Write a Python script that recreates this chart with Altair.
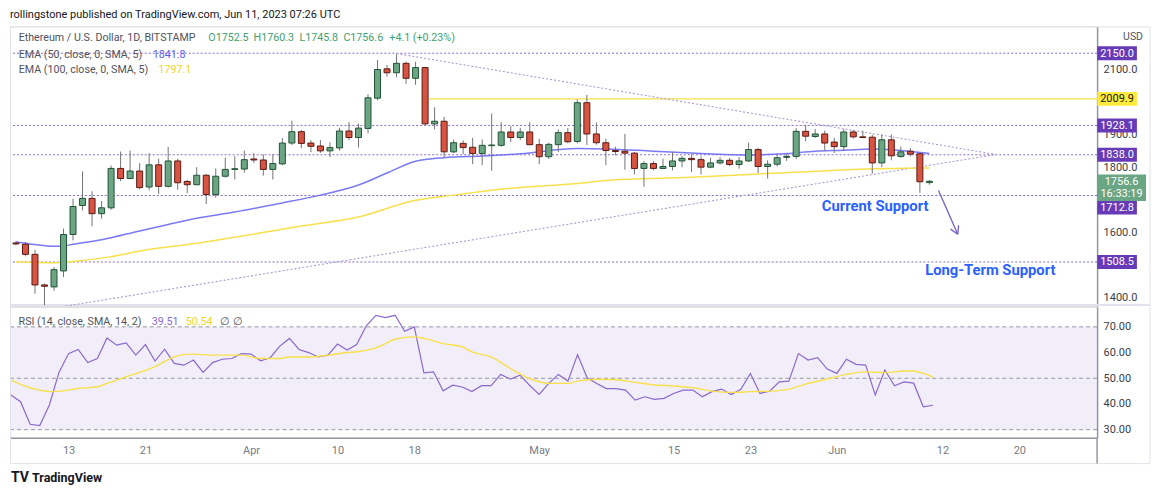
import altair as alt
import pandas as pd

# ---------------------------------------------------------------- data
first_day = "2023-03-07"
last_day = "2023-06-11"

opens = [1567, 1563, 1532, 1438, 1432, 1481, 1593, 1682, 1704, 1657,
         1675, 1796, 1765, 1788, 1739, 1807, 1741, 1819, 1756, 1746,
         1775, 1716, 1772, 1793, 1794, 1825, 1822, 1793, 1810, 1874,
         1909, 1874, 1865, 1850, 1859, 1911, 1891, 1919, 2012, 2102,
         2090, 2119, 2073, 2106, 1933, 1941, 1847, 1873, 1861, 1842,
         1866, 1867, 1908, 1891, 1908, 1869, 1832, 1869, 1906, 1879,
         1998, 1902, 1875, 1851, 1849, 1843, 1796, 1811, 1796, 1802,
         1819, 1827, 1823, 1800, 1813, 1821, 1808, 1819, 1854, 1802,
         1809, 1830, 1833, 1910, 1894, 1902, 1877, 1863, 1908, 1893,
         1892, 1813, 1884, 1833, 1849, 1841, 1752.5]
highs = [1572, 1570, 1546, 1442, 1493, 1611, 1703, 1787, 1726, 1696,
         1805, 1848, 1851, 1812, 1843, 1826, 1862, 1826, 1761, 1800,
         1779, 1796, 1829, 1834, 1851, 1843, 1839, 1840, 1890, 1943,
         1914, 1883, 1883, 1876, 1921, 1938, 1934, 2024, 2129, 2114,
         2147, 2124, 2124, 2108, 1984, 1955, 1885, 1882, 1890, 1885,
         1965, 1938, 1926, 1921, 1938, 1887, 1875, 1916, 1920, 2008,
         2022, 1937, 1887, 1863, 1902, 1846, 1819, 1819, 1826, 1846,
         1835, 1839, 1833, 1829, 1831, 1828, 1831, 1875, 1859, 1821,
         1841, 1841, 1920, 1930, 1917, 1912, 1890, 1917, 1914, 1912,
         1900, 1900, 1900, 1863, 1859, 1843, 1760.3]
lows = [1560, 1526, 1411, 1376, 1420, 1462, 1575, 1667, 1618, 1642,
        1669, 1757, 1764, 1732, 1729, 1718, 1737, 1731, 1720, 1744,
        1687, 1706, 1768, 1762, 1783, 1813, 1774, 1762, 1806, 1868,
        1858, 1846, 1844, 1831, 1850, 1883, 1860, 1904, 2005, 2078,
        2076, 2056, 2053, 1928, 1916, 1830, 1843, 1840, 1809, 1806,
        1789, 1863, 1877, 1883, 1867, 1809, 1825, 1847, 1873, 1873,
        1868, 1869, 1806, 1836, 1792, 1778, 1740, 1790, 1794, 1790,
        1800, 1785, 1777, 1797, 1808, 1803, 1795, 1816, 1782, 1765,
        1802, 1819, 1825, 1879, 1890, 1851, 1843, 1849, 1888, 1889,
        1780, 1800, 1821, 1829, 1833, 1721, 1745.8]
closes = [1564, 1532, 1438, 1434, 1485, 1593, 1679, 1704, 1657, 1675,
          1796, 1765, 1788, 1737, 1807, 1741, 1819, 1752, 1746, 1775,
          1716, 1772, 1793, 1795, 1823, 1822, 1793, 1811, 1874, 1909,
          1873, 1864, 1850, 1860, 1911, 1891, 1920, 2013, 2100, 2090,
          2119, 2073, 2106, 1933, 1941, 1847, 1875, 1860, 1842, 1867,
          1868, 1908, 1891, 1908, 1869, 1832, 1870, 1906, 1878, 1998,
          1902, 1875, 1851, 1848, 1843, 1796, 1811, 1796, 1802, 1819,
          1827, 1823, 1800, 1813, 1821, 1808, 1819, 1854, 1802, 1809,
          1829, 1833, 1910, 1895, 1902, 1874, 1863, 1908, 1893, 1891,
          1813, 1884, 1835, 1847, 1840, 1755, 1756.6]

rsi = [43.5, 40.9, 32.1, 31.6, 39.6, 52.3, 59.6, 61.2, 56.1, 57.7,
       65.7, 62.9, 63.8, 59.0, 63.1, 56.7, 61.3, 55.8, 55.1, 57.1,
       52.3, 56.1, 57.4, 57.7, 59.6, 59.4, 56.8, 58.0, 62.5, 65.5,
       61.2, 60.0, 58.3, 59.0, 63.3, 61.0, 63.1, 70.4, 74.5, 73.6,
       74.5, 68.3, 70.0, 52.1, 52.5, 45.1, 47.3, 46.6, 44.8, 47.1,
       47.1, 51.5, 49.7, 51.2, 47.3, 43.7, 48.0, 51.5, 48.9, 59.2,
       50.2, 48.0, 46.0, 46.0, 45.4, 41.5, 42.8, 41.8, 42.2, 44.1,
       45.4, 45.4, 42.8, 44.8, 45.8, 43.7, 45.7, 51.9, 44.1, 45.0,
       48.6, 48.9, 59.6, 57.1, 58.0, 53.6, 51.9, 57.4, 55.4, 55.1,
       43.5, 53.2, 47.1, 48.6, 48.1, 38.9, 39.51]

rsi_sma_dates = ["2023-03-07", "2023-03-09", "2023-03-10", "2023-03-11", "2023-03-13",
                 "2023-03-14", "2023-03-16", "2023-03-17", "2023-03-19", "2023-03-22",
                 "2023-03-24", "2023-03-25", "2023-03-26", "2023-03-28", "2023-03-31",
                 "2023-04-02", "2023-04-04", "2023-04-05", "2023-04-07", "2023-04-09",
                 "2023-04-11", "2023-04-12", "2023-04-14", "2023-04-15", "2023-04-16",
                 "2023-04-18", "2023-04-19", "2023-04-21", "2023-04-23", "2023-04-24",
                 "2023-04-26", "2023-04-28", "2023-04-30", "2023-05-02", "2023-05-04",
                 "2023-05-05", "2023-05-07", "2023-05-09", "2023-05-11", "2023-05-13",
                 "2023-05-15", "2023-05-17", "2023-05-19", "2023-05-21", "2023-05-23",
                 "2023-05-25", "2023-05-27", "2023-05-29", "2023-05-31", "2023-06-02",
                 "2023-06-04", "2023-06-06", "2023-06-08", "2023-06-09", "2023-06-10",
                 "2023-06-11"]
rsi_sma = [49.3, 46.3, 45.4, 44.8, 45.4, 46.0, 46.7, 48.0, 50.6, 54.5,
           58.3, 59.2, 59.4, 59.0, 59.0, 57.7, 57.7, 58.3, 58.3, 59.0,
           60.0, 60.3, 61.8, 63.5, 65.2, 66.1, 65.5, 63.5, 62.2, 60.3,
           58.3, 53.8, 49.9, 48.0, 48.0, 48.9, 49.6, 49.4, 48.4, 47.4,
           47.0, 46.3, 45.0, 44.5, 44.8, 45.0, 45.8, 48.0, 49.7, 51.5,
           52.5, 52.2, 52.8, 52.8, 51.9, 50.54]

ema50_dates = ["2023-03-07", "2023-03-09", "2023-03-11", "2023-03-12", "2023-03-13",
               "2023-03-16", "2023-03-20", "2023-03-23", "2023-03-26", "2023-03-30",
               "2023-04-04", "2023-04-08", "2023-04-12", "2023-04-15", "2023-04-18",
               "2023-04-21", "2023-04-25", "2023-04-29", "2023-05-05", "2023-05-08",
               "2023-05-13", "2023-05-18", "2023-05-23", "2023-05-27", "2023-05-30",
               "2023-06-02", "2023-06-05", "2023-06-08", "2023-06-11"]
ema50 = [1570, 1562, 1557, 1558, 1563, 1577, 1604, 1624, 1643, 1662,
         1690, 1714, 1745, 1782, 1818, 1829, 1834, 1841, 1857, 1856,
         1849, 1842, 1837, 1842, 1849, 1852, 1856, 1851, 1841.8]

ema100_dates = ["2023-03-07", "2023-03-11", "2023-03-13", "2023-03-17", "2023-03-20",
                "2023-03-26", "2023-04-04", "2023-04-06", "2023-04-12", "2023-04-18",
                "2023-04-22", "2023-04-28", "2023-05-05", "2023-05-08", "2023-05-17",
                "2023-05-24", "2023-05-29", "2023-06-03", "2023-06-11"]
ema100 = [1509, 1506, 1510, 1525, 1542, 1566, 1609, 1619, 1647, 1698,
          1714, 1735, 1750, 1759, 1769, 1779, 1786, 1793, 1797.1]

levels = [2150.0, 1928.1, 1838.0, 1712.8, 1508.5]
resistance = 2009.9
resistance_from = "2023-04-19"
last_price = 1756.6
countdown = "16:33:19"

tri_names = ["upper", "upper", "lower", "lower"]
tri_dates = ["2023-04-16", "2023-06-18", "2023-03-11", "2023-06-18"]
tri_prices = [2149, 1839, 1367, 1839]

price_ticks = [1400, 1600, 1800, 1900, 2100]
rsi_ticks = [30, 40, 50, 60, 70]
rsi_bands = [70, 50, 30]
x_tick_dates = ["2023-03-13", "2023-03-21", "2023-04-01", "2023-04-10", "2023-04-18",
                "2023-05-01", "2023-05-15", "2023-05-23", "2023-06-01", "2023-06-12",
                "2023-06-20"]
x_tick_labels = ["13", "21", "Apr", "10", "18", "May", "15", "23", "Jun", "12", "20"]

# ---------------------------------------------------------------- helpers
BASE = pd.Timestamp("2023-03-13")


def to_idx(ds):
    return [(pd.Timestamp(d) - BASE).days for d in ds]


FONT = "Roboto"
W, PH, RH, FULL_W = 1089, 280, 131, 1142
X0, X1 = -6.10, 107.1
P0, P1 = 1373.6, 2232.5
R0, R1 = 26.89, 77.77

UP, UP_B = "#6ba583", "#225437"
DN, DN_B = "#d75442", "#5b1a13"
WICK = "#737375"
LVL = "#7e57c2"
TRI = "#a89ad8"
FRAME = "#e0e3eb"
AXIS_LINE = "#9598a1"
AXIS_TXT = "#3b3e48"
GRAY_TXT = "#50535e"
GREEN_TXT = "#3f9f6f"
BLUE = "#6b6bf5"
YELLOW = "#f7e04b"
RSI_C = "#8c6bd0"
ANNOT = "#2962ff"
BADGE = "#673ab7"
LEG = 10.7

dummy = pd.DataFrame({"a": [0]})

xsc = alt.Scale(domain=[X0, X1], nice=False, zero=False)
psc = alt.Scale(domain=[P0, P1], nice=False, zero=False)
rsc = alt.Scale(domain=[R0, R1], nice=False, zero=False)

price_axis = alt.Axis(orient="right", values=price_ticks, format=".1f", ticks=False,
                      labelPadding=6, labelFontSize=11, labelColor=AXIS_TXT,
                      labelFont=FONT, domainColor=AXIS_LINE, domainWidth=1.5, grid=False,
                      title=None)
rsi_axis = alt.Axis(orient="right", values=rsi_ticks, format=".2f", ticks=False,
                    labelPadding=6, labelFontSize=11, labelColor=AXIS_TXT, labelFont=FONT,
                    domainColor=AXIS_LINE, domainWidth=1.5, grid=False, title=None)


def px(f="idx"):
    return alt.X(f"{f}:Q", scale=xsc, axis=None, title=None)


def py(f):
    return alt.Y(f"{f}:Q", scale=psc, axis=price_axis, title=None)


def label(text, x, y, color=GRAY_TXT, size=LEG, weight="normal", align="left"):
    return alt.Chart(dummy).mark_text(
        text=text, align=align, baseline="middle", fontSize=size, color=color,
        font=FONT, fontWeight=weight
    ).encode(x=alt.value(x), y=alt.value(y))


def hline(x, x2, y, color=FRAME, width=1):
    return alt.Chart(dummy).mark_rule(color=color, strokeWidth=width).encode(
        x=alt.value(x), x2=alt.value(x2), y=alt.value(y))


def vline(x, y, y2, color=FRAME, width=1):
    return alt.Chart(dummy).mark_rule(color=color, strokeWidth=width).encode(
        x=alt.value(x), y=alt.value(y), y2=alt.value(y2))


# ---------------------------------------------------------------- tables
days = pd.date_range(first_day, last_day, freq="D")
day_idx = [(d - BASE).days for d in days]

candles = pd.DataFrame({"idx": day_idx, "open": opens, "high": highs,
                        "low": lows, "close": closes})
candles["dir"] = ["up" if c >= o else "down" for o, c in zip(opens, closes)]
candles["bot"] = [min(o, c) for o, c in zip(opens, closes)]
candles["top"] = [max(max(o, c), min(o, c) + 2) for o, c in zip(opens, closes)]

rsi_df = pd.DataFrame({"idx": day_idx, "rsi": rsi})
rsi_sma_df = pd.DataFrame({"idx": to_idx(rsi_sma_dates), "v": rsi_sma})
ema50_df = pd.DataFrame({"idx": to_idx(ema50_dates), "v": ema50})
ema100_df = pd.DataFrame({"idx": to_idx(ema100_dates), "v": ema100})
tri_df = pd.DataFrame({"line": tri_names, "idx": to_idx(tri_dates), "price": tri_prices})

tick_idx = to_idx(x_tick_dates)
label_expr = "''"
for v, lab in reversed(list(zip(tick_idx, x_tick_labels))):
    label_expr = f"datum.value == {v} ? '{lab}' : ({label_expr})"

month_test = " || ".join(f"datum.label == '{m}'" for m in x_tick_labels if not m.isdigit())
x_axis = alt.Axis(values=tick_idx, labelExpr=label_expr, ticks=False, labelPadding=7,
                  labelFontSize=11, labelFont=FONT,
                  labelColor={"condition": {"test": month_test, "value": "#3b3e48"},
                              "value": "#787b86"},
                  domainColor=AXIS_LINE, domainWidth=1.5, grid=False, labelFlush=False,
                  title=None)


def rx(f="idx"):
    return alt.X(f"{f}:Q", scale=xsc, axis=x_axis, title=None)


def ry(f):
    return alt.Y(f"{f}:Q", scale=rsc, axis=rsi_axis, title=None)


# ---------------------------------------------------------------- price pane
lvl_layer = alt.Chart(pd.DataFrame({"price": levels})).mark_rule(
    color=LVL, strokeDash=[2, 2], strokeWidth=1, opacity=0.9
).encode(y=py("price"))

res_layer = alt.Chart(pd.DataFrame({"idx": [to_idx([resistance_from])[0] + 0.4],
                                    "price": [resistance]})).mark_rule(
    color=YELLOW, strokeWidth=1.3
).encode(x=px(), x2=alt.value(W), y=py("price"))

tri_layer = alt.Chart(tri_df).mark_line(
    color=TRI, strokeDash=[2, 2], strokeWidth=1.1, clip=True
).encode(x=px(), y=py("price"), detail="line:N")

ema100_layer = alt.Chart(ema100_df).mark_line(
    color=YELLOW, strokeWidth=1.5, interpolate="monotone", clip=True
).encode(x=px(), y=py("v"))
ema50_layer = alt.Chart(ema50_df).mark_line(
    color=BLUE, strokeWidth=1.5, interpolate="monotone", clip=True, opacity=0.9
).encode(x=px(), y=py("v"))

wick_layer = alt.Chart(candles).mark_rule(color=WICK, strokeWidth=1, clip=True).encode(
    x=px(), y=py("low"), y2="high:Q")
body_layer = alt.Chart(candles).mark_bar(size=6, strokeWidth=1, clip=True).encode(
    x=px(), y=py("bot"), y2="top:Q",
    fill=alt.Fill("dir:N", scale=alt.Scale(domain=["up", "down"], range=[UP, DN]), legend=None),
    stroke=alt.Stroke("dir:N", scale=alt.Scale(domain=["up", "down"], range=[UP_B, DN_B]), legend=None),
)

arrow_df = pd.DataFrame({
    "x": [90.96, 92.98, 92.98], "y": [1728.5, 1593.6, 1593.6],
    "x2": [92.98, 93.07, 92.23], "y2": [1593.6, 1621.0, 1609.5]})
arrow_layer = alt.Chart(arrow_df).mark_rule(color="#6f5fc4", strokeWidth=1.3).encode(
    x=px("x"), x2="x2:Q", y=py("y"), y2="y2:Q")

annot_df = pd.DataFrame({"idx": [84.3, 96.4], "price": [1677, 1481],
                         "text": ["Current Support", "Long-Term Support"]})
annot_layer = alt.Chart(annot_df).mark_text(
    font=FONT, fontSize=14.8, fontWeight="bold", color=ANNOT, baseline="middle"
).encode(x=px(), y=py("price"), text="text:N")

BOX = "M-1,-0.35H1V0.35H-1Z"
BOX2 = "M-1,-0.28H1V0.81H-1Z"


def badge(price, text, fill, color, y_off=0):
    df = pd.DataFrame({"price": [price], "label": [text]})
    box = alt.Chart(df).mark_point(
        shape=BOX, size=1580, filled=True, opacity=1, color=fill, strokeWidth=0, yOffset=y_off
    ).encode(x=alt.value(W + 20), y=py("price"))
    txt = alt.Chart(df).mark_text(
        font=FONT, fontSize=11, color=color, baseline="middle", align="center", yOffset=y_off + 0.5
    ).encode(x=alt.value(W + 20), y=py("price"), text="label:N")
    return [box, txt]


badge_layers = []
for lv in levels:
    badge_layers += badge(lv, f"{lv:.1f}", BADGE, "white", 12 if lv == 1712.8 else 0)
badge_layers += badge(resistance, f"{resistance:.1f}", "#ffeb3b", "#131722")

lp_df = pd.DataFrame({"price": [last_price], "label": [f"{last_price:.1f}"], "cd": [countdown]})
badge_layers += [
    alt.Chart(lp_df).mark_point(shape=BOX2, size=2401, filled=True, opacity=1,
                                color="#6aa584", strokeWidth=0).encode(
        x=alt.value(W + 24.5), y=py("price")),
    alt.Chart(lp_df).mark_text(font=FONT, fontSize=11, color="white", baseline="middle",
                               yOffset=0.5).encode(
        x=alt.value(W + 24.5), y=py("price"), text="label:N"),
    alt.Chart(lp_df).mark_text(font=FONT, fontSize=11, color="white", baseline="middle",
                               yOffset=12.5).encode(
        x=alt.value(W + 24.5), y=py("price"), text="cd:N"),
]

price_text = [
    label("rollingstone published on TradingView.com, Jun 11, 2023 07:26 UTC", 0, -11,
          color="#131722", size=11.0),
    label("Ethereum / U.S. Dollar, 1D, BITSTAMP", 8.7, 11.7),
    label("O1752.5", 198.7, 11.7, GREEN_TXT),
    label("H1760.3", 244, 11.7, GREEN_TXT),
    label("L1745.8", 290, 11.7, GREEN_TXT),
    label("C1756.6", 334, 11.7, GREEN_TXT),
    label("+4.1 (+0.23%)", 380, 11.7, GREEN_TXT),
    label("EMA (50, close, 0, SMA, 5)", 8.7, 28.3),
    label("1841.8", 143, 28.3, "#5a5af5"),
    label("EMA (100, close, 0, SMA, 5)", 8.7, 43.3),
    label("1797.1", 148.7, 43.3, "#f0d42a"),
    label("USD", 1125, 11, GRAY_TXT, 10.5, align="center"),
]

price_frame = [
    hline(0, FULL_W, 0.5),
    vline(0.5, 0, PH),
    vline(FULL_W, 0, PH),
    hline(0, FULL_W, PH - 1, FRAME, 2),
]

price_chart = alt.layer(
    lvl_layer, *price_frame, res_layer, tri_layer, ema100_layer, ema50_layer,
    wick_layer, body_layer, arrow_layer, annot_layer, *price_text, *badge_layers
).properties(width=W, height=PH)

# ---------------------------------------------------------------- RSI pane
rsi_layer = alt.Chart(rsi_df).mark_line(color=RSI_C, strokeWidth=1.2, clip=True).encode(
    x=rx(), y=ry("rsi"))

band_layer = alt.Chart(pd.DataFrame({"hi": [max(rsi_bands)], "lo": [min(rsi_bands)]})).mark_rect(
    color="#7e57c2", opacity=0.1
).encode(x=alt.value(0), x2=alt.value(W), y=ry("hi"), y2="lo:Q")

rband_rules = alt.Chart(pd.DataFrame({"v": rsi_bands})).mark_rule(
    color="#9598a1", strokeDash=[4, 3], strokeWidth=1
).encode(y=ry("v"))

rsi_sma_layer = alt.Chart(rsi_sma_df).mark_line(
    color=YELLOW, strokeWidth=1.4, interpolate="monotone", clip=True
).encode(x=rx(), y=ry("v"))

rsi_text = [
    label("RSI (14, close, SMA, 14, 2)", 8.6, 15),
    label("39.51", 142, 15, RSI_C),
    label("50.54", 176, 15, "#f0d42a"),
    label("\u2205", 210, 15),
    label("\u2205", 223, 15),
    label("TV", 1, 171, "#131722", 14, "bold"),
    label("TradingView", 22, 171, "#131722", 12.5, "bold"),
]

rsi_frame = [
    vline(0.5, 0, 157),
    vline(FULL_W, 0, 157),
    hline(0, FULL_W, 157),
    vline(W, RH, 157, AXIS_LINE, 1.5),
]

rsi_chart = alt.layer(
    rsi_layer, band_layer, rband_rules, rsi_sma_layer, *rsi_text, *rsi_frame
).properties(width=W, height=RH)

chart = alt.vconcat(price_chart, rsi_chart, spacing=-2).properties(
    padding={"left": 0, "top": 0, "right": 0, "bottom": 0}
).configure_view(stroke=None).configure(background="white")

chart.save("out.html", embed_options={"renderer": "svg", "actions": False})
